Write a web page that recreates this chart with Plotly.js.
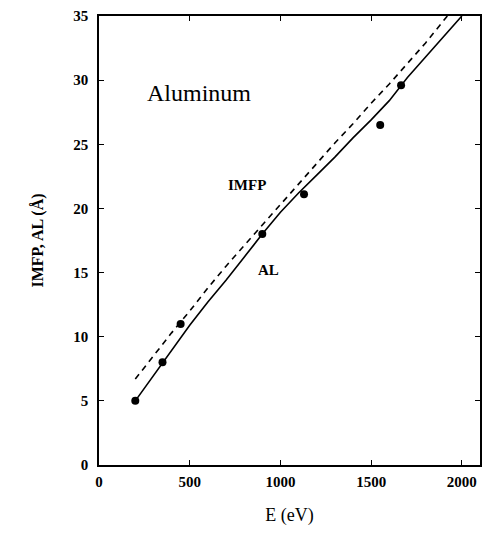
<!DOCTYPE html>
<html>
<head>
<meta charset="utf-8">
<script src="https://cdn.plot.ly/plotly-3.0.1.min.js"></script>
<style>html,body{margin:0;padding:0;background:#fff;}#chart{width:484px;height:536px;}</style>
</head>
<body>
<div id="chart"></div>
<script>
// AL (attenuation length) curve, solid
const alE = [200, 250, 300, 350, 400, 450, 500, 600, 700, 800, 900, 1000, 1100, 1200, 1300, 1400, 1500, 1600, 1700, 1800, 1900, 2000];
const alV = [5.0, 6.0, 7.0, 8.0, 8.9, 10.0, 10.9, 12.7, 14.4, 16.2, 18.0, 19.7, 21.2, 22.6, 24.0, 25.5, 26.9, 28.4, 30.2, 31.8, 33.4, 35.0];
// IMFP curve, dashed
const imfpE = [200, 300, 400, 500, 600, 700, 800, 900, 1000, 1100, 1200, 1300, 1400, 1500, 1600, 1700, 1800, 1920];
const imfpV = [6.7, 8.5, 10.3, 12.0, 13.8, 15.5, 17.1, 18.7, 20.3, 21.9, 23.5, 25.1, 26.6, 28.2, 29.7, 31.3, 32.9, 35.0];
// measured points
const ptE = [200, 350, 450, 900, 1130, 1550, 1665];
const ptV = [5.0, 8.0, 11.0, 18.0, 21.1, 26.5, 29.6];
// ticks
const xTicks = [0, 500, 1000, 1500, 2000];
const yTicks = [0, 5, 10, 15, 20, 25, 30, 35];

const serif = "Liberation Serif, Times New Roman, serif";

const traces = [
  {x: imfpE, y: imfpV, mode: 'lines', line: {color: '#000', width: 1.6, dash: '6px,5px'}, hoverinfo: 'skip'},
  {x: alE, y: alV, mode: 'lines', line: {color: '#000', width: 1.6}, hoverinfo: 'skip'},
  {x: ptE, y: ptV, mode: 'markers', marker: {color: '#000', size: 8}, hoverinfo: 'skip'}
];

const axisCommon = {
  showgrid: false, zeroline: false, showline: true, mirror: 'ticks',
  linecolor: '#000', linewidth: 1.8, ticks: 'inside', ticklen: 5, tickcolor: '#000',
  tickfont: {family: serif, size: 15, color: '#000', weight: 'bold'}
};

const layout = {
  width: 484, height: 536,
  margin: {l: 99, r: 4, t: 16, b: 71},
  paper_bgcolor: '#fff', plot_bgcolor: '#fff',
  showlegend: false,
  xaxis: Object.assign({}, axisCommon, {
    range: [0, 2100], tickvals: xTicks, ticktext: xTicks.map(String),
    ticklabelstandoff: 2,
    title: {text: 'E (eV)', font: {family: serif, size: 18, color: '#000'}, standoff: 20}
  }),
  yaxis: Object.assign({}, axisCommon, {
    range: [0, 35], tickvals: yTicks, ticktext: yTicks.map(String),
    ticklabelstandoff: 6,
    title: {text: 'IMFP, AL (Å)', font: {family: serif, size: 16, color: '#000', weight: 'bold'}, standoff: 26}
  }),
  annotations: [
    {x: 552, y: 29.0, xref: 'x', yref: 'y', text: 'Aluminum', showarrow: false, font: {family: serif, size: 24, color: '#000'}},
    {x: 814, y: 21.8, xref: 'x', yref: 'y', text: 'IMFP', showarrow: false, font: {family: serif, size: 15, color: '#000', weight: 'bold'}},
    {x: 933, y: 15.2, xref: 'x', yref: 'y', text: 'AL', showarrow: false, font: {family: serif, size: 15, color: '#000', weight: 'bold'}}
  ]
};

Plotly.newPlot('chart', traces, layout, {staticPlot: true, displayModeBar: false});
</script>
</body>
</html>
